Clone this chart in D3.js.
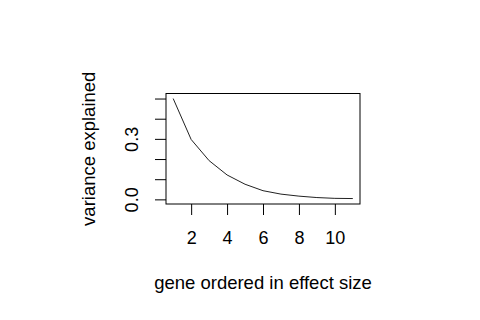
<!DOCTYPE html>
<html>
<head>
<meta charset="utf-8">
<script src="https://cdn.jsdelivr.net/npm/d3@7"></script>
<style>
  body { margin: 0; background: #fff; }
  svg text { font-family: "Liberation Sans", Arial, sans-serif; fill: #000; }
</style>
</head>
<body>
<div id="graph"></div>
<script>
// Data: gene rank vs variance explained
var genes = [1, 2, 3, 4, 5, 6, 7, 8, 9, 10, 11];
var variance = [0.5, 0.297, 0.192, 0.121, 0.075, 0.043, 0.026, 0.016, 0.009, 0.005, 0.004];
var xTicks = [2, 4, 6, 8, 10];
var yTicks = [0, 0.1, 0.2, 0.3, 0.4, 0.5];
var yLabels = [0, 0.3];

// Plot region
var margin = {top: 93.5, right: 120, bottom: 116, left: 166},
    width = 480 - margin.left - margin.right,
    height = 320 - margin.top - margin.bottom;

// Scales (R style 4% padding)
var x = d3.scaleLinear().domain([0.6, 11.4]).range([0, width]),
    y = d3.scaleLinear().domain([-0.023, 0.525]).range([height, 0]);

var svg = d3.select('#graph')
    .append('svg')
    .attr('width', 480)
    .attr('height', 320);

var chart = svg.append('g')
    .attr('transform', 'translate(' + margin.left + ',' + margin.top + ')');

// Line
var line = d3.line()
    .x(function(d, i) { return x(genes[i]); })
    .y(function(d) { return y(d); });

chart.append('path')
    .datum(variance)
    .attr('fill', 'none')
    .attr('stroke', '#222')
    .attr('stroke-width', 1)
    .attr('d', line);

// Box
chart.append('rect')
    .attr('x', 0)
    .attr('y', 0)
    .attr('width', width)
    .attr('height', height)
    .attr('fill', 'none')
    .attr('stroke', '#000')
    .attr('stroke-width', 1);

// X axis
var xAxis = d3.axisBottom(x).tickValues(xTicks).tickSize(11).tickPadding(16).tickSizeOuter(0);
var gx = chart.append('g')
    .attr('transform', 'translate(0,' + height + ')')
    .call(xAxis);
gx.select('.domain').remove();
gx.selectAll('text').attr('font-size', 18).attr('font-family', '"Liberation Sans", Arial, sans-serif').attr('fill', '#000');

// Y axis
var yAxis = d3.axisLeft(y).tickValues(yTicks).tickSize(11).tickSizeOuter(0)
    .tickFormat(function(d) { return yLabels.indexOf(d) >= 0 ? d3.format('.1f')(d) : ''; });
var gy = chart.append('g').call(yAxis);
gy.select('.domain').remove();
gy.selectAll('text')
    .attr('font-size', 18)
    .attr('font-family', '"Liberation Sans", Arial, sans-serif')
    .attr('fill', '#000')
    .attr('transform', 'rotate(-90)')
    .attr('x', 0)
    .attr('y', -28)
    .attr('dy', 0)
    .attr('text-anchor', 'middle');

// Axis titles
svg.append('text')
    .attr('x', margin.left + width / 2)
    .attr('y', 289)
    .attr('text-anchor', 'middle')
    .attr('font-size', 18.5)
    .text('gene ordered in effect size');

svg.append('text')
    .attr('transform', 'translate(95,' + (margin.top + height / 2) + ') rotate(-90)')
    .attr('text-anchor', 'middle')
    .attr('font-size', 18.5)
    .text('variance explained');
</script>
</body>
</html>
